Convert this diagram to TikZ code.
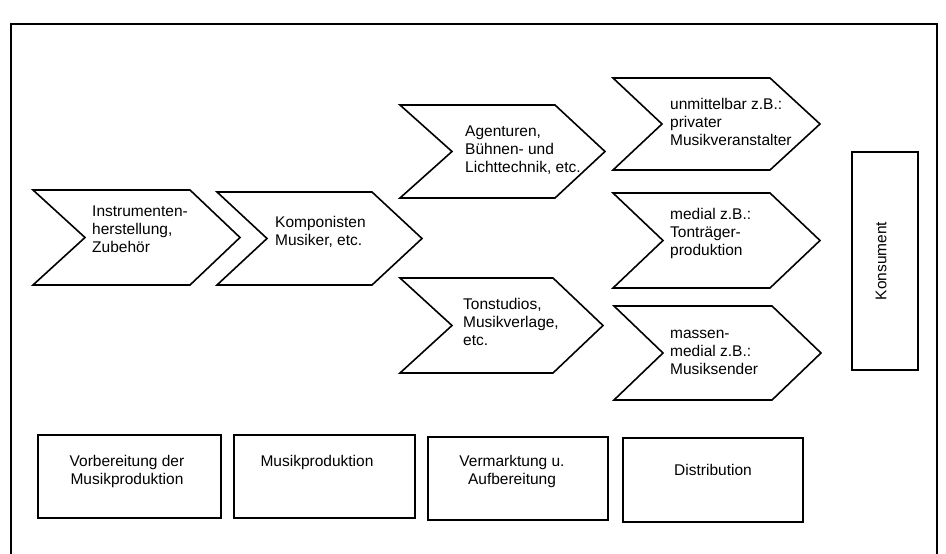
\documentclass[tikz,border=0pt]{standalone}
\usepackage{fontspec}
\setmainfont{Liberation Sans}
\newcommand\chev[6]{% left, right, tip, top, bottom, notch
  \draw[chevline] (#1,#4) -- (#2,#4) -- (#3,{(#4+#5)/2}) -- (#2,#5) -- (#1,#5) -- (#6,{(#4+#5)/2}) -- cycle;}
\begin{document}
\begin{tikzpicture}[x=1pt,y=-1pt,
  chevline/.style={line width=1.6pt, line join=miter},
  frameline/.style={line width=1.6pt},
  ctext/.style={anchor=west, align=left, inner sep=0pt, font=\fontsize{15.5}{18}\selectfont},
  btext/.style={align=center, inner sep=0pt, font=\fontsize{15.5}{18}\selectfont},
  boxnode/.style={draw, line width=1.6pt, inner sep=0pt}]
\useasboundingbox (0,0) rectangle (946,554);
\fill[white] (0,0) rectangle (946,554);
% outer frame (its lower edge lies outside the picture)
\draw[frameline] (11,560) -- (11,24) -- (937,24) -- (937,560);
% chevrons
\chev{33}{190}{240}{190}{285}{85}
\chev{217}{372}{422}{192}{285}{267}
\chev{400}{555}{605}{105}{198}{452}
\chev{400}{553}{603}{278}{373}{452}
\chev{613}{770}{820}{78}{170}{662}
\chev{613}{770}{820}{193}{288}{663}
\chev{614}{772}{821}{306}{400}{663}
% chevron texts
\node[ctext] (c1) at (92,229) {Instrumenten-\\herstellung,\\Zubehör};
\node[ctext] (c2) at (275,232) {Komponisten\\Musiker, etc.};
\node[ctext] (c3) at (465,150) {Agenturen,\\Bühnen- und\\Lichttechnik, etc.};
\node[ctext] (c4) at (463,322) {Tonstudios,\\Musikverlage,\\etc.};
\node[ctext] (c5) at (670,122) {unmittelbar z.B.:\\privater\\Musikveranstalter};
\node[ctext] (c6) at (670,233) {medial z.B.:\\Tonträger-\\produktion};
\node[ctext] (c7) at (670,352) {massen-\\medial z.B.:\\Musiksender};
% Konsument
\node[boxnode, minimum width=66pt, minimum height=218pt] (kons) at (885,261) {};
\node[btext, rotate=90] (konst) at (881,261) {Konsument};
% bottom boxes
\node[boxnode, minimum width=183pt, minimum height=83pt] (b1) at (129.5,476.5) {};
\node[boxnode, minimum width=181pt, minimum height=83pt] (b2) at (324.5,476.5) {};
\node[boxnode, minimum width=180pt, minimum height=83pt] (b3) at (518,478.5) {};
\node[boxnode, minimum width=180pt, minimum height=84pt] (b4) at (713,480) {};
\node[btext] (t1) at (127,471) {Vorbereitung der\\Musikproduktion};
\node[btext] (t2) at (317,462) {Musikproduktion};
\node[btext] (t3) at (512,471) {Vermarktung u.\\Aufbereitung};
\node[btext] (t4) at (713,470) {Distribution};
\end{tikzpicture}
\end{document}
